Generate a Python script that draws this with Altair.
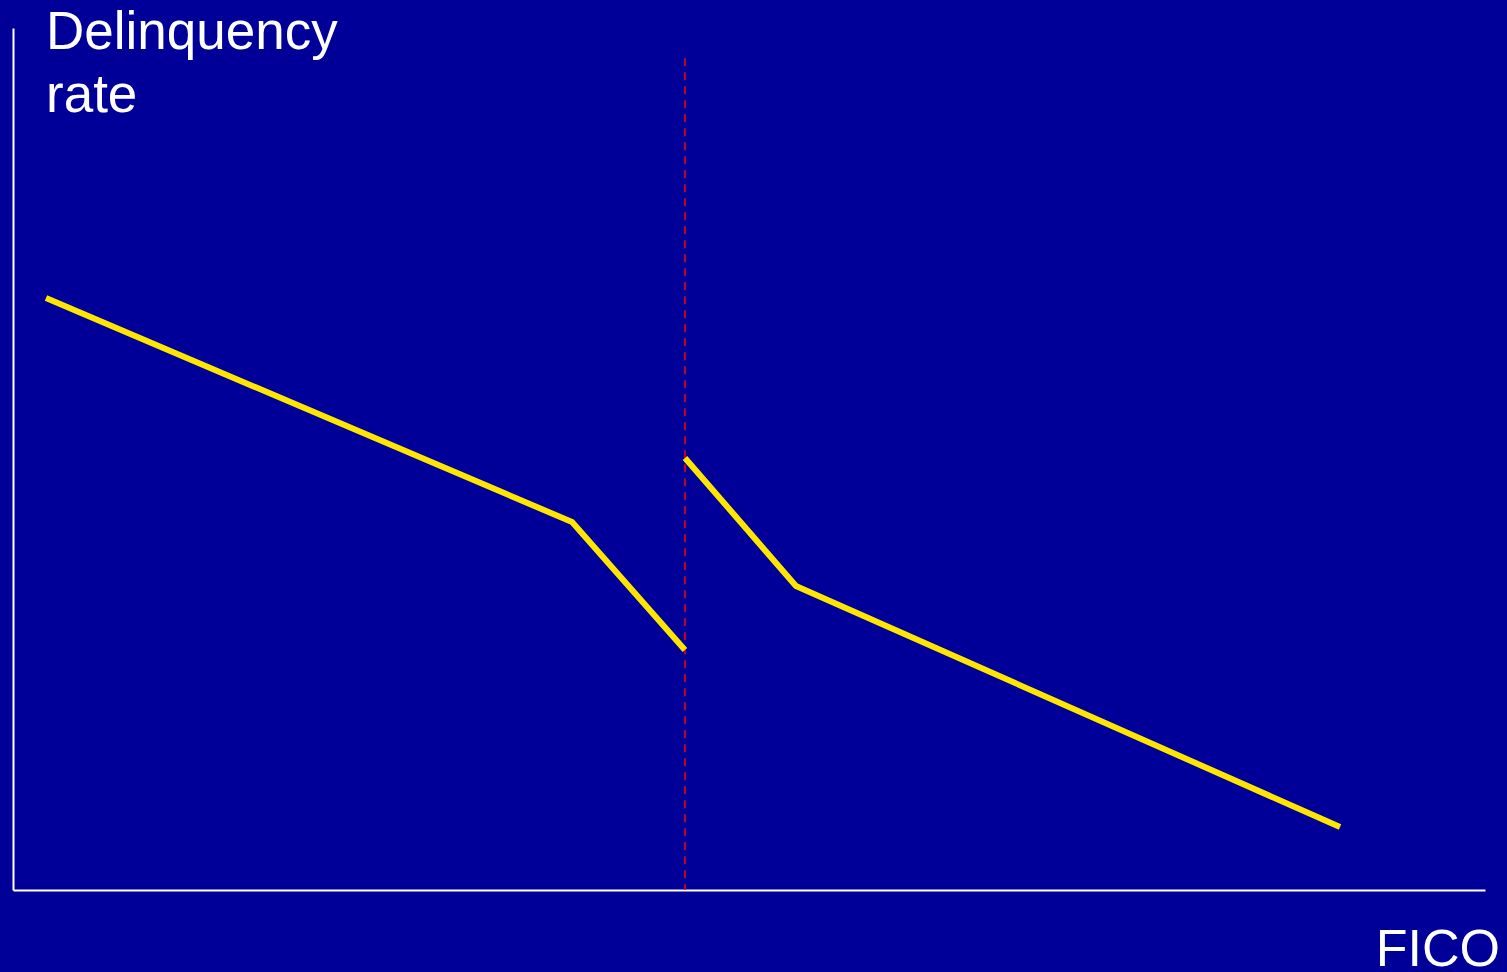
import altair as alt
import pandas as pd

# Data (abstract units: FICO axis 0-100, delinquency rate 0-100)
seg_id = ["below", "below", "below", "above", "above", "above"]
fico = [2.24, 37.98, 45.65, 45.65, 53.19, 90.15]
rate = [68.68, 42.69, 27.84, 50.12, 35.27, 7.31]
order = [0, 1, 2, 0, 1, 2]
cutoff_fico = [45.65]
cutoff_top = [96.5]

df = pd.DataFrame({"seg": seg_id, "fico": fico, "rate": rate, "ord": order})
cut = pd.DataFrame({"fico": cutoff_fico, "top": cutoff_top, "bottom": [0]})

W, H = 1472, 862
xs = alt.Scale(domain=[0, 100], nice=False, zero=False)
ys = alt.Scale(domain=[0, 100], nice=False, zero=False)

axis_x = alt.Axis(domain=True, domainColor="white", domainWidth=2, ticks=False,
                  labels=False, grid=False, title=None)
axis_y = alt.Axis(domain=True, domainColor="white", domainWidth=2, ticks=False,
                  labels=False, grid=False, title=None)

lines = alt.Chart(df).mark_line(color="#FFE600", strokeWidth=6, strokeCap="butt").encode(
    x=alt.X("fico:Q", scale=xs, axis=axis_x),
    y=alt.Y("rate:Q", scale=ys, axis=axis_y),
    detail="seg:N",
    order="ord:Q",
)

rule = alt.Chart(cut).mark_rule(color="#FF0000", strokeWidth=1.5, strokeDash=[8, 6]).encode(
    x=alt.X("fico:Q", scale=xs),
    y=alt.Y("top:Q", scale=ys),
    y2="bottom:Q",
)

ylab = alt.Chart(pd.DataFrame({"t": [["Delinquency", "rate"]]})).mark_text(
    align="left", baseline="alphabetic", fontSize=53, lineHeight=63,
    font="Liberation Sans", color="white"
).encode(text="t", x=alt.value(33), y=alt.value(21))

xlab = alt.Chart(pd.DataFrame({"t": ["FICO"]})).mark_text(
    align="right", baseline="alphabetic", fontSize=52,
    font="Liberation Sans", color="white"
).encode(text="t:N", x=alt.value(1487), y=alt.value(938))

chart = alt.layer(rule, lines, ylab, xlab).properties(
    width=W, height=H,
    background="#000099",
    padding={"left": 13, "top": 28, "right": 22, "bottom": 82},
    autosize=alt.AutoSizeParams(type="none"),
).configure_view(stroke=None)

chart.save("out.html", embed_options={"renderer": "svg", "actions": False})
